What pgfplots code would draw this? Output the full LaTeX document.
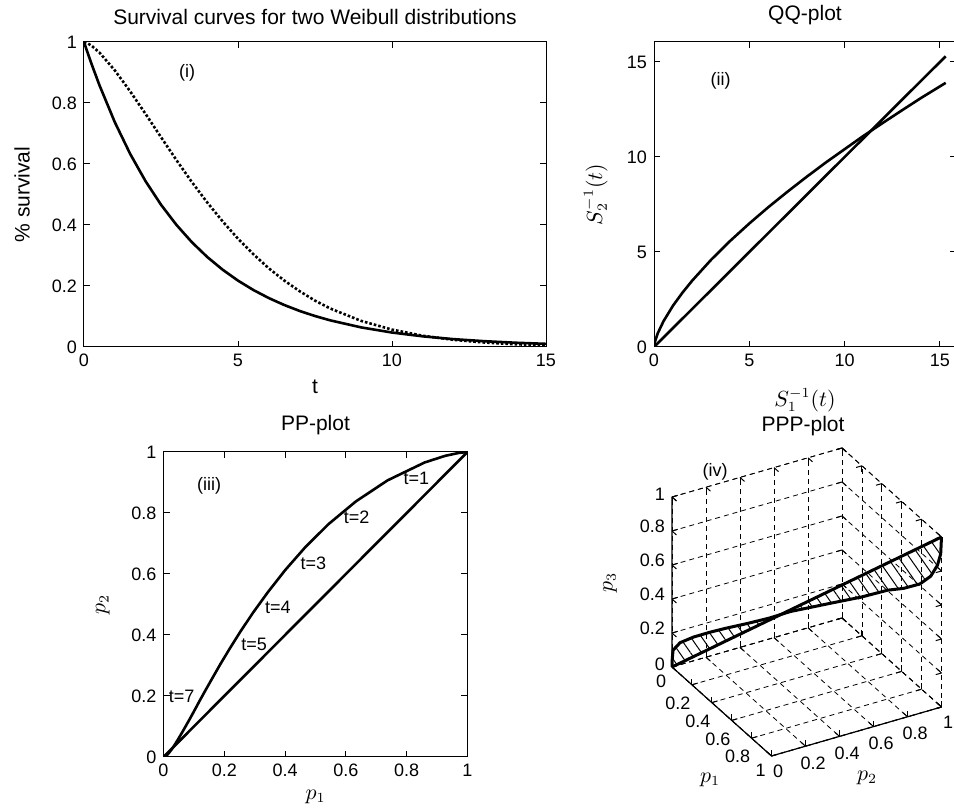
\documentclass[border=0pt]{standalone}
\usepackage{fontspec}
\setmainfont{Liberation Sans}
\usepackage{pgfplots}
\usepackage{pgfplotstable}
\pgfplotsset{compat=1.18}
\usetikzlibrary{patterns.meta}

% survival S1 (solid) and S2 (dotted)
\pgfplotstableread{
t    s1     s2
0    1      1
0.1  0.9700 0.9967
0.25 0.9266 0.9874
0.5  0.8587 0.9655
1    0.7371 0.9070
1.5  0.6329 0.8380
2    0.5434 0.7640
2.5  0.4665 0.6880
3    0.4005 0.6130
3.5  0.3438 0.5410
4    0.2952 0.4740
4.5  0.2535 0.4120
5    0.2176 0.3550
5.5  0.1868 0.3040
6    0.1604 0.2580
6.5  0.1377 0.2180
7    0.1182 0.1830
7.5  0.1015 0.1520
8    0.0872 0.1260
9    0.0642 0.0855
10   0.0474 0.0570
11   0.0349 0.0368
12   0.0257 0.0234
13   0.0190 0.0147
14   0.0140 0.0090
15   0.0103 0.0055
20   0.0022 0.0004
30   0.0001 0.0000
}\survtab

% QQ curve
\pgfplotstableread{
q1   q2
0    0
0.05 0.284
0.2  0.729
0.5  1.359
1    2.18
1.5  2.868
2    3.487
3    4.594
4    5.587
5    6.50
6    7.36
7    8.17
8    8.95
9    9.70
10   10.41
11   11.12
12   11.79
13   12.45
14   13.10
15.3 13.90
}\qqtab

% PPP curve (p1 = p2 = s)
\pgfplotstableread{
s     p3
0     0
0.001 0.05
0.004 0.10
0.03  0.15
0.08  0.195
0.14  0.237
0.20  0.275
0.28  0.322
0.36  0.372
0.44  0.43
0.52  0.475
0.60  0.52
0.70  0.575
0.80  0.64
0.86  0.665
0.92  0.705
0.96  0.76
0.985 0.83
0.997 0.90
1.0   1.0
}\ppptab

\pgfplotsset{
  matlab/.style={
    axis line style={line width=0.5pt},
    tick style={black, line width=0.5pt},
    major tick length=3pt,
    /pgf/number format/assume math mode=true,
    tick label style={font=\fontsize{9}{10}\selectfont},
    label style={font=\fontsize{10.5}{12}\selectfont},
    title style={font=\fontsize{10.5}{12}\selectfont, yshift=-1pt},
  },
}

\begin{document}
\begin{tikzpicture}
\useasboundingbox (0,0) rectangle (477pt,406pt);

% (i) survival curves
\begin{axis}[matlab, scale only axis,
  at={(42pt,232.5pt)}, anchor=south west,
  width=231pt, height=152.5pt,
  xmin=0, xmax=15, ymin=0, ymax=1,
  xtick={0,5,10,15}, ytick={0,0.2,0.4,0.6,0.8,1},
  title={Survival curves for two Weibull distributions},
  xlabel={t}, ylabel={\% survival},
  xlabel style={at={(axis description cs:0.5,-0.131)}, anchor=center},
  ylabel style={at={(axis description cs:-0.134,0.5)}, anchor=center},
]
\addplot[black, line width=1.3pt] table[x=t, y=s1] {\survtab};
\addplot[black, line width=1.3pt, densely dotted] table[x=t, y=s2] {\survtab};
\node[font=\fontsize{9}{10}\selectfont] at (axis cs:3.35,0.9) {(i)};
\end{axis}

% (ii) QQ-plot
\begin{axis}[matlab, scale only axis,
  at={(327pt,232.5pt)}, anchor=south west,
  width=151pt, height=152.5pt,
  xmin=0, xmax=15.84, ymin=0, ymax=16.05,
  xtick={0,5,10,15}, ytick={0,5,10,15},
  title={QQ-plot},
  xlabel={$S_1^{-1}(t)$}, ylabel={$S_2^{-1}(t)$},
  xlabel style={at={(axis description cs:0.5,-0.174)}, anchor=center},
  ylabel style={at={(axis description cs:-0.193,0.5)}, anchor=center},
]
\addplot[black, line width=1.3pt] coordinates {(0,0) (15.3,15.3)};
\addplot[black, line width=1.3pt] table[x=q1, y=q2] {\qqtab};
\node[font=\fontsize{9}{10}\selectfont] at (axis cs:3.5,14) {(ii)};
\end{axis}

% (iii) PP-plot
\begin{axis}[matlab, scale only axis,
  at={(81.75pt,27.5pt)}, anchor=south west,
  width=152pt, height=152.5pt,
  xmin=0, xmax=1, ymin=0, ymax=1,
  xtick={0,0.2,0.4,0.6,0.8,1}, ytick={0,0.2,0.4,0.6,0.8,1},
  title={PP-plot},
  xlabel={$p_1$}, ylabel={$p_2$},
  xlabel style={at={(axis description cs:0.5,-0.13)}, anchor=center},
  ylabel style={at={(axis description cs:-0.20,0.5)}, anchor=center},
]
\addplot[black, line width=1.3pt] coordinates {(0,0) (1,1)};
\addplot[black, line width=1.3pt] table[x=s1, y=s2] {\survtab};
\begin{scope}[font=\fontsize{9}{10}\selectfont]
\node at (axis cs:0.15,0.89) {(iii)};
\node at (axis cs:0.832,0.913) {t=1};
\node at (axis cs:0.635,0.785) {t=2};
\node at (axis cs:0.493,0.636) {t=3};
\node at (axis cs:0.376,0.492) {t=4};
\node at (axis cs:0.298,0.369) {t=5};
\node at (axis cs:0.060,0.199) {t=7};
\end{scope}
\end{axis}

% (iv) PPP-plot
\begin{axis}[matlab,
  x={(49.75pt,-44.5pt)}, y={(85pt,24.5pt)}, z={(0pt,85pt)},
  at={(336pt,72.5pt)}, anchor=origin,
  xmin=0, xmax=1, ymin=0, ymax=1, zmin=0, zmax=1,
  xtick={0,0.2,0.4,0.6,0.8,1}, ytick={0,0.2,0.4,0.6,0.8,1},
  ztick={0,0.2,0.4,0.6,0.8,1},
  clip=false,
  grid=major,
  major grid style={black, line width=0.4pt, dash pattern=on 2.5pt off 2pt},
  axis line style={black, line width=0.4pt, dash pattern=on 2.5pt off 2pt},
]
\addplot3[black, line width=0.6pt, solid] coordinates {(0,0,1) (0,0,0) (1,0,0) (1,1,0)};
\addplot3[draw=none, pattern={Lines[angle=-55, distance=4.5pt, line width=0.5pt]}]
  table[x=s, y=s, z=p3] {\ppptab};
\addplot3[black, line width=1.5pt] table[x=s, y=s, z=p3] {\ppptab};
\addplot3[black, line width=1.5pt] coordinates {(0,0,0) (1,1,1)};
\end{axis}
\node[font=\fontsize{10.5}{12}\selectfont] at (401.5pt,193pt) {PPP-plot};
\node[font=\fontsize{9}{10}\selectfont] at (357.5pt,170pt) {(iv)};
\node[font=\fontsize{10.5}{12}\selectfont] at (355pt,16pt) {$p_1$};
\node[font=\fontsize{10.5}{12}\selectfont] at (433.5pt,17pt) {$p_2$};
\node[font=\fontsize{10.5}{12}\selectfont, rotate=90] at (305pt,114.5pt) {$p_3$};
\end{tikzpicture}
\end{document}
